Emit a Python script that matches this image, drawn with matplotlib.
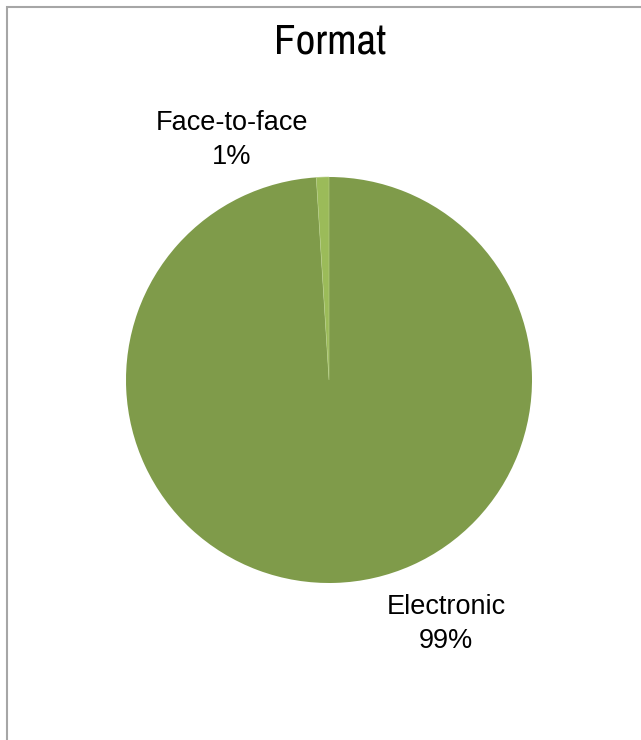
import matplotlib
matplotlib.use("Agg")
import matplotlib.pyplot as plt
from matplotlib import font_manager
from matplotlib.patches import Rectangle

categories = ["Electronic", "Face-to-face"]
values = [99, 1]
colors = ["#7F9B4A", "#9BBB59"]
title = "Format"

names = {f.name for f in font_manager.fontManager.ttflist}
label_fam = [n for n in ["Liberation Sans", "DejaVu Sans"] if n in names or n == "DejaVu Sans"]
title_fam = [n for n in ["Archivo Narrow", "Liberation Sans", "DejaVu Sans"] if n in names or n == "DejaVu Sans"]
plt.rcParams['font.family'] = label_fam

W, H = 641, 740
fig = plt.figure(figsize=(W/100, H/100), dpi=100)
fig.patch.set_facecolor("white")

# frame
fig.patches.append(Rectangle((7/W, -0.1), 1.2, (H-7)/H + 0.1, transform=fig.transFigure,
                             fill=False, edgecolor="#A6A6A6", linewidth=1.5))

cx, cy, r = 329, 380, 203
ax = fig.add_axes([(cx-r)/W, (H-cy-r)/H, 2*r/W, 2*r/H])
wedges, _ = ax.pie(values, colors=colors, startangle=90, counterclock=False,
                   wedgeprops=dict(edgecolor="#B8D08A", linewidth=0.4))
wedges[0].set_edgecolor("none")
ax.set_xlim(-1, 1); ax.set_ylim(-1, 1)
ax.set_aspect("equal")
ax.axis("off")

pcts = [f"{v}%" for v in values]
label_pos = {"Electronic": (446, 624), "Face-to-face": (232, 140)}
for c, p in zip(categories, pcts):
    x, y = label_pos[c]
    fig.text(x/W, 1 - y/H, f"{c}\n{p}", ha="center", va="center", fontsize=19.5,
             linespacing=1.45, color="black", family=label_fam)

fig.text(330.5/W, 1 - 41/H, title, ha="center", va="center", fontsize=31,
         color="black", family=title_fam)

fig.savefig("out.png", dpi=100)
